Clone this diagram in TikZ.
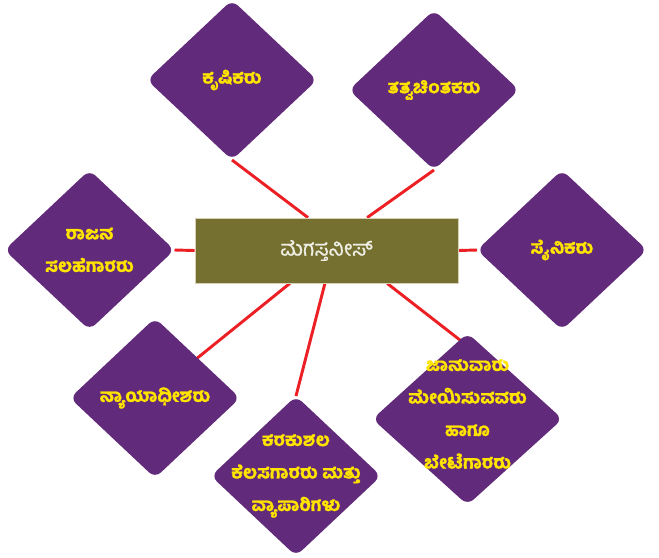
\documentclass[tikz,border=0pt]{standalone}
\usepackage{fontspec}
\newfontfamily\kn[Script=Kannada,FakeBold=0.9]{Hind Mysuru}
\newfontfamily\knb[Script=Kannada,FakeBold=1.2]{Hind Mysuru Bold}
\usetikzlibrary{shapes.geometric,backgrounds,calc}
\definecolor{dpurple}{RGB}{98,42,122}
\definecolor{dolive}{RGB}{118,112,48}
\definecolor{hubborder}{RGB}{215,208,180}
\definecolor{hubtext}{RGB}{238,238,228}
\definecolor{dyellow}{RGB}{255,228,0}
\definecolor{dred}{RGB}{236,32,36}
\begin{document}
\begin{tikzpicture}[x=0.75pt,y=-0.75pt,
  leaf/.style={diamond, fill=dpurple, inner sep=0pt, outer sep=0pt, rounded corners=6pt,
               minimum width=127.5pt, minimum height=120pt},
  bigleaf/.style={leaf, minimum width=142.5pt, minimum height=129pt},
  leaftext/.style={text=dyellow, align=center, inner sep=0pt,
               font={\knb\fontsize{13.4}{24.4}\selectfont}},
  hub/.style={rectangle, fill=dolive, draw=hubborder, line width=0.6pt,
               minimum width=197.25pt, minimum height=48.75pt, text=hubtext,
               font={\kn\fontsize{15.8}{18}\selectfont}},
  link/.style={draw=dred, line width=2.2pt}]
\useasboundingbox (0,0) rectangle (659,557);
\node[hub] (c) at (326.5,250.5) {ಮೆಗಸ್ತನೀಸ್};
\node[leaf] (d1) at (232,80) {};
\node[leaftext] (t1) at (d1.center) {ಕೃಷಿಕರು};
\node[leaf] (d2) at (434,90) {};
\node[leaftext] (t2) at (d2.center) {ತತ್ವಚಿಂತಕರು};
\node[leaf] (d3) at (89.5,250) {};
\node[leaftext] (t3) at (d3.center) {ರಾಜನ\\ಸಲಹೆಗಾರರು};
\node[leaf] (d4) at (562,250) {};
\node[leaftext] (t4) at (d4.center) {ಸೈನಿಕರು};
\node[leaf] (d5) at (155,398) {};
\node[leaftext] (t5) at (d5.center) {ನ್ಯಾಯಾಧೀಶರು};
\node[leaf] (d6) at (296,476) {};
\node[leaftext] (t6) at (d6.center) {ಕರಕುಶಲ\\ಕೆಲಸಗಾರರು ಮತ್ತು\\ವ್ಯಾಪಾರಿಗಳು};
\node[bigleaf] (d7) at (467.5,419) {};
\node[leaftext] (t7) at ($(d7.center)+(0,-5)$) {ಜಾನುವಾರು\\ಮೇಯಿಸುವವರು\\ಹಾಗೂ\\ಬೇಟೆಗಾರರು};
\begin{scope}[on background layer]
  \fill[white] (0,0) rectangle (659,557);
  \draw[link] ($(c.north west)!0.43!(c.north east)$) -- (d1.south);
  \draw[link] ($(c.north west)!0.654!(c.north east)$) -- (d2.south);
  \draw[link] (c.west) -- (d3.east);
  \draw[link] (c.east) -- (d4.west);
  \draw[link] ($(c.south west)!0.361!(c.south east)$) -- ($(d5.center)+(30,-30)$);
  \draw[link] ($(c.south west)!0.494!(c.south east)$) -- (d6.north);
  \draw[link] ($(c.south west)!0.73!(c.south east)$) -- ($(d7.center)+(-5,-77)$);
\end{scope}
\end{tikzpicture}
\end{document}
